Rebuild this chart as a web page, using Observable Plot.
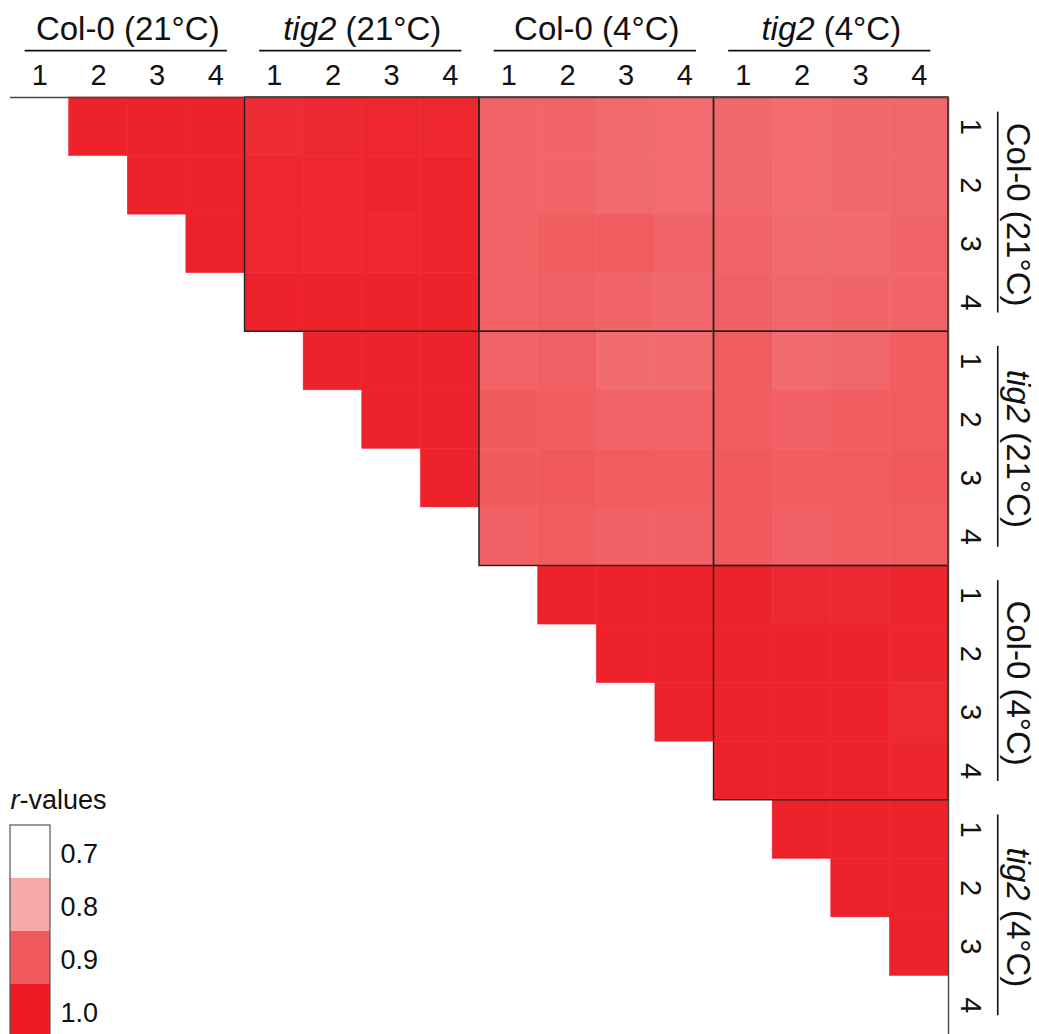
<!DOCTYPE html>
<html>
<head>
<meta charset="utf-8">
<script src="https://cdn.jsdelivr.net/npm/d3@7"></script>
<script src="https://cdn.jsdelivr.net/npm/@observablehq/plot@0.6"></script>
<style>
  html, body { margin: 0; padding: 0; background: #fff; overflow: hidden; }
  #wrap { position: relative; width: 1039px; height: 1034px; }
  #legend { position: absolute; left: 0; top: 780px; }
  svg { font-family: "Liberation Sans", Arial, Helvetica, sans-serif; }
</style>
</head>
<body>
<div id="wrap"><div id="main"></div><div id="legend"></div></div>
<script>
// ---- data ----
const groupNames = ["Col-0 (21°C)", "tig2 (21°C)", "Col-0 (4°C)", "tig2 (4°C)"];
const reps = [1, 2, 3, 4];
// upper-triangle r-values: row i lists columns i+1 .. 15
const rValues = [
  [0.99, 0.99, 0.99, 0.975, 0.980, 0.982, 0.982, 0.888, 0.886, 0.880, 0.877, 0.883, 0.877, 0.882, 0.883],
  [0.99, 0.99, 0.982, 0.982, 0.985, 0.987, 0.888, 0.886, 0.880, 0.877, 0.884, 0.877, 0.882, 0.883],
  [0.99, 0.982, 0.982, 0.983, 0.987, 0.888, 0.895, 0.897, 0.886, 0.889, 0.880, 0.880, 0.886],
  [0.99, 0.99, 0.99, 0.99, 0.888, 0.894, 0.886, 0.883, 0.892, 0.883, 0.886, 0.886],
  [0.99, 0.99, 0.99, 0.889, 0.894, 0.878, 0.878, 0.897, 0.878, 0.885, 0.897],
  [0.99, 0.99, 0.899, 0.895, 0.889, 0.889, 0.897, 0.892, 0.895, 0.897],
  [0.99, 0.899, 0.900, 0.898, 0.895, 0.901, 0.895, 0.897, 0.901],
  [0.892, 0.897, 0.891, 0.892, 0.901, 0.892, 0.895, 0.897],
  [0.99, 0.99, 0.99, 0.988, 0.980, 0.980, 0.985],
  [0.99, 0.99, 0.99, 0.99, 0.99, 0.985],
  [0.99, 0.99, 0.99, 0.99, 0.978],
  [0.99, 0.99, 0.99, 0.985],
  [0.99, 0.99, 0.99],
  [0.99, 0.99],
  [0.99]
];
const legendValues = [0.7, 0.8, 0.9, 1.0];
const legendColors = ["#FFFFFF", "#F7A8AB", "#F05A5E", "#ED1C24"];

// ---- derived tables ----
const samples = groupNames.flatMap((g, gi) => reps.map(r => ({group: g, gi, rep: r})));
const cells = rValues.flatMap((row, i) => row.map((r, k) => ({i, j: i + 1 + k, r})));
const blockPairs = [];
for (let a = 0; a < groupNames.length; a++)
  for (let b = a + 1; b < groupNames.length; b++) blockPairs.push({a, b});
const n = samples.length;
const colorSpec = {type: "linear", domain: legendValues, range: legendColors};
const font = "'Liberation Sans', Arial, Helvetica, sans-serif";

const main = Plot.plot({
  width: 1039, height: 1034,
  marginTop: 97, marginLeft: 10, marginRight: 91, marginBottom: 0,
  x: {domain: [0, n], axis: null},
  y: {domain: [0, n], reverse: true, axis: null},
  color: colorSpec,
  style: {fontFamily: font, color: "#111", background: "transparent"},
  marks: [
    Plot.rect(cells, {x1: d => d.j, x2: d => d.j + 1, y1: d => d.i, y2: d => d.i + 1,
      fill: "r", stroke: "r", strokeWidth: 0.5}),
    Plot.rect(blockPairs, {x1: d => d.b * 4, x2: d => d.b * 4 + 4, y1: d => d.a * 4, y2: d => d.a * 4 + 4,
      fill: "none", stroke: "#222", strokeWidth: 1.4}),
    Plot.ruleY([0], {x1: () => 0, x2: () => n, stroke: "#444", strokeWidth: 1.4}),
    Plot.ruleX([n], {y1: () => 0, y2: () => n + 1, stroke: "#444", strokeWidth: 1.4}),
    // top labels
    Plot.text(samples, {x: (d, i) => i + 0.5, y: () => -0.375, text: d => String(d.rep), fontSize: 29}),
    Plot.text(groupNames, {x: (d, i) => i * 4 + 2, y: () => -1.17, text: d => d, fontSize: 33}),
    Plot.ruleY(groupNames, {y: () => -0.8, x1: (d, i) => i * 4 + 0.25, x2: (d, i) => i * 4 + 3.7,
      stroke: "#111", strokeWidth: 1.6}),
    // right labels
    Plot.text(samples, {x: () => n + 0.375, y: (d, i) => i + 0.5, text: d => String(d.rep), rotate: 90, fontSize: 29}),
    Plot.text(groupNames, {x: () => n + 1.18, y: (d, i) => i * 4 + 2, text: d => d, rotate: 90, fontSize: 33}),
    Plot.ruleX(groupNames, {x: () => n + 0.84, y1: (d, i) => i * 4 + 0.25, y2: (d, i) => i * 4 + 3.68,
      stroke: "#111", strokeWidth: 1.6})
  ]
});

const legend = Plot.plot({
  width: 150, height: 260,
  marginTop: 45, marginLeft: 10, marginRight: 100, marginBottom: 3,
  x: {domain: [0, 1], axis: null},
  y: {domain: [0, legendValues.length], reverse: true, axis: null},
  color: colorSpec,
  style: {fontFamily: font, color: "#111", background: "transparent"},
  marks: [
    Plot.rect(legendValues, {x1: () => 0, x2: () => 1, y1: (d, i) => i, y2: (d, i) => i + 1, fill: d => d}),
    Plot.rect([0], {x1: () => 0, x2: () => 1, y1: () => 0, y2: () => legendValues.length,
      fill: "none", stroke: "#555", strokeWidth: 1.2}),
    Plot.text(legendValues, {x: () => 1, dx: 10, y: (d, i) => i + 0.55, text: d => d.toFixed(1),
      textAnchor: "start", fontSize: 27}),
    Plot.text(["r-values"], {x: () => 0, y: () => -0.47, text: d => d, textAnchor: "start", fontSize: 27})
  ]
});

function italicize(svg) {
  d3.select(svg).selectAll("text").each(function () {
    const t = this.textContent;
    let head = null;
    if (t.startsWith("tig2 ")) head = "tig2";
    else if (t === "r-values") head = "r";
    if (head) {
      const el = d3.select(this);
      el.text(null);
      el.append("tspan").attr("font-style", "italic").text(head);
      el.append("tspan").text(t.slice(head.length));
    }
  });
}
italicize(main);
italicize(legend);
document.getElementById("main").appendChild(main);
document.getElementById("legend").appendChild(legend);
</script>
</body>
</html>
